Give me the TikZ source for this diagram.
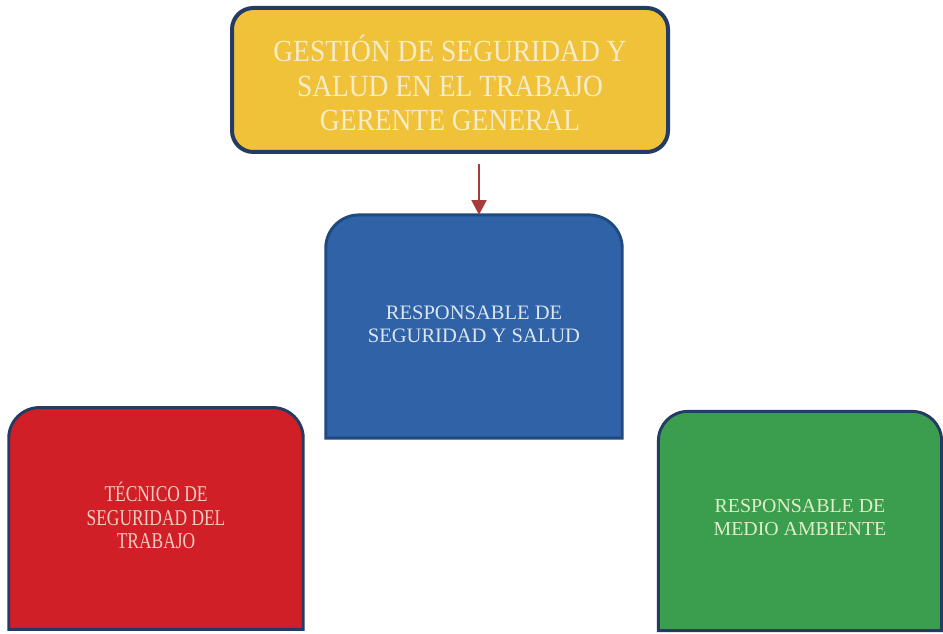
\documentclass[tikz,border=0pt]{standalone}
\usepackage{fontspec}
\setmainfont{Liberation Serif}
\usetikzlibrary{arrows.meta}
\definecolor{goldfill}{HTML}{F0C23A}
\definecolor{navy}{HTML}{243B63}
\definecolor{bluefill}{HTML}{2F62A6}
\definecolor{blueborder}{HTML}{1F4A80}
\definecolor{redfill}{HTML}{D01F27}
\definecolor{greenfill}{HTML}{3A9E4E}
\definecolor{goldtext}{HTML}{F6ECC6}
\definecolor{bluetext}{HTML}{DCE6F2}
\definecolor{redtext}{HTML}{F4CBC0}
\definecolor{greentext}{HTML}{E0EDC8}
\definecolor{arrowred}{HTML}{A83C3A}
\newcommand{\toprounded}[4]{%
  \draw[line width=2.2pt, draw=#4, fill=#3]
    (#1.south west) -- ([yshift=-#2]#1.north west)
    arc[start angle=180, end angle=90, radius=#2]
    -- ([xshift=-#2]#1.north east)
    arc[start angle=90, end angle=0, radius=#2]
    -- (#1.south east) -- cycle;}
\begin{document}
\begin{tikzpicture}[x=0.75pt,y=0.75pt,
  txt/.style={inner sep=0pt, align=center},
  arrowline/.style={draw=arrowred, line width=1.8pt, -{Triangle[length=11pt,width=11pt]}}]
\useasboundingbox (0,0) rectangle (943,633);
\fill[white] (0,0) rectangle (943,633);
% top box
\node[rectangle, inner sep=0pt, minimum width=327pt, minimum height=108pt,
      rounded corners=16pt, draw=navy, line width=3pt, fill=goldfill] (top) at (450,553) {};
\node[txt, text=goldtext, font=\fontsize{20.6}{23}\selectfont, yscale=1.12, transform shape] (toptxt) at (450,550)
  {GESTIÓN DE SEGURIDAD Y\\ SALUD EN EL TRABAJO\\ GERENTE GENERAL};
% blue box
\node[inner sep=0pt, minimum width=222pt, minimum height=167pt] (resp) at (474,306.5) {};
\toprounded{resp}{25pt}{bluefill}{blueborder}
\node[txt, text=bluetext, font=\fontsize{15.4}{17.3}\selectfont] (resptxt) at (474,309)
  {RESPONSABLE DE\\ SEGURIDAD Y SALUD};
% red box
\node[inner sep=0pt, minimum width=220.5pt, minimum height=166pt] (tec) at (156,114.5) {};
\toprounded{tec}{23pt}{redfill}{navy}
\node[txt, text=redtext, font=\fontsize{15}{15.7}\selectfont, xscale=0.87, yscale=1.13, transform shape] (tectxt) at (156,117.5)
  {TÉCNICO DE\\ SEGURIDAD DEL\\ TRABAJO};
% green box
\node[inner sep=0pt, minimum width=212pt, minimum height=164pt] (amb) at (800,112) {};
\toprounded{amb}{22pt}{greenfill}{navy}
\node[txt, text=greentext, font=\fontsize{14.9}{17.3}\selectfont] (ambtxt) at (800,115.5)
  {RESPONSABLE DE\\ MEDIO AMBIENTE};
% arrow
\coordinate (arrtop) at (479,469);
\draw[arrowline] (arrtop) -- (arrtop |- resp.north);
\end{tikzpicture}
\end{document}
